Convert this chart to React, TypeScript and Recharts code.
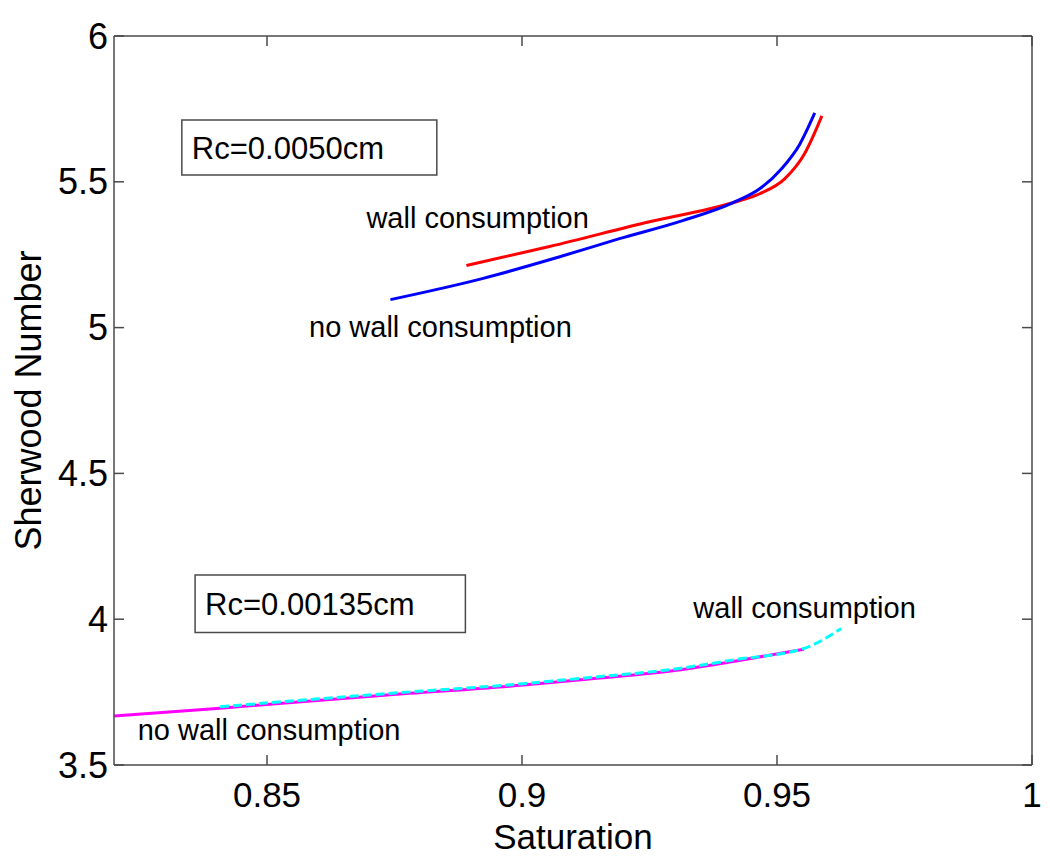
import React from 'react';
import { LineChart, Line, XAxis, YAxis, ReferenceArea, ReferenceDot, Label } from 'recharts';

const blueX = [0.8742, 0.8922, 0.9074, 0.9191, 0.9315, 0.9413, 0.9466, 0.9509, 0.9545, 0.9574];
const blueY = [5.096, 5.168, 5.243, 5.305, 5.367, 5.428, 5.476, 5.545, 5.63, 5.736];
const redX = [0.8891, 0.9054, 0.925, 0.9413, 0.9466, 0.9515, 0.9554, 0.9588];
const redY = [5.213, 5.278, 5.363, 5.428, 5.459, 5.51, 5.596, 5.726];
const magentaX = [0.82, 0.8408, 0.8736, 0.9003, 0.9132, 0.9303, 0.9417, 0.9553];
const magentaY = [3.668, 3.695, 3.74, 3.774, 3.795, 3.825, 3.856, 3.897];
const cyanX = [0.8408, 0.8736, 0.9003, 0.9132, 0.9303, 0.9417, 0.9553, 0.9626];
const cyanY = [3.7, 3.745, 3.779, 3.8, 3.83, 3.861, 3.9, 3.968];

const xTicks = [0.85, 0.9, 0.95, 1];
const yTicks = [3.5, 4, 4.5, 5, 5.5, 6];
const xTickLabels = ['0.85', '0.9', '0.95', '1'];
const yTickLabels = ['3.5', '4', '4.5', '5', '5.5', '6'];

const toPts = (xs: number[], ys: number[]) => xs.map((x, i) => ({ x, y: ys[i] }));

const FONT = '"Liberation Sans", Arial, Helvetica, sans-serif';
const AXC = '#4a4a4a';
const TICK_LEN = 10;

const annotations = [
  { x: 0.8913, y: 5.376, text: 'wall consumption' },
  { x: 0.884, y: 5.002, text: 'no wall consumption' },
  { x: 0.9554, y: 4.038, text: 'wall consumption' },
  { x: 0.8504, y: 3.62, text: 'no wall consumption' },
];

const boxes = [
  { x1: 0.8333, x2: 0.8833, y1: 5.523, y2: 5.712, text: 'Rc=0.0050cm' },
  { x1: 0.8359, x2: 0.8889, y1: 3.954, y2: 4.152, text: 'Rc=0.00135cm' },
];

const BottomTick = (props: any) => {
  const { x, y, index } = props;
  const axisY = y - 29;
  return (
    <g>
      <line x1={x} y1={axisY} x2={x} y2={axisY - TICK_LEN} stroke={AXC} strokeWidth={1.5} />
      <text x={x} y={y} textAnchor="middle" dominantBaseline="central" fill="#000" fontSize={35} fontFamily={FONT}>
        {xTickLabels[index]}
      </text>
    </g>
  );
};

const LeftTick = (props: any) => {
  const { x, y, index } = props;
  const axisX = x + 6;
  return (
    <g>
      <line x1={axisX} y1={y} x2={axisX + TICK_LEN} y2={y} stroke={AXC} strokeWidth={1.5} />
      <text x={x} y={y} textAnchor="end" dominantBaseline="central" fill="#000" fontSize={36} fontFamily={FONT}>
        {yTickLabels[index]}
      </text>
    </g>
  );
};

const TopTick = (props: any) => {
  const { x, y } = props;
  return <line x1={x} y1={y} x2={x} y2={y + TICK_LEN} stroke={AXC} strokeWidth={1.5} />;
};

const RightTick = (props: any) => {
  const { x, y } = props;
  return <line x1={x} y1={y} x2={x - TICK_LEN} y2={y} stroke={AXC} strokeWidth={1.5} />;
};

export default function App() {
  return (
    <div style={{ position: 'absolute', left: 0, top: 0, background: '#fff' }}>
      <LineChart width={1050} height={863} margin={{ top: 35, right: 17, bottom: 0, left: 0 }}>
        <XAxis
          xAxisId="b"
          type="number"
          dataKey="x"
          domain={[0.82, 1]}
          ticks={xTicks}
          allowDataOverflow
          height={98}
          stroke={AXC}
          strokeWidth={1.5}
          tickLine={false}
          tickSize={0}
          tickMargin={29}
          tick={<BottomTick />}
        >
          <Label value="Saturation" position="insideBottom" offset={14} style={{ fill: '#000', fontSize: 35, fontFamily: FONT }} />
        </XAxis>
        <XAxis
          xAxisId="t"
          orientation="top"
          type="number"
          dataKey="x"
          domain={[0.82, 1]}
          ticks={xTicks}
          allowDataOverflow
          height={1}
          stroke={AXC}
          strokeWidth={1.5}
          tickLine={false}
          tickSize={0}
          tickMargin={0}
          tick={<TopTick />}
        />
        <YAxis
          yAxisId="l"
          type="number"
          dataKey="y"
          domain={[3.5, 6]}
          ticks={yTicks}
          allowDataOverflow
          width={114}
          stroke={AXC}
          strokeWidth={1.5}
          tickLine={false}
          tickSize={0}
          tickMargin={6}
          tick={<LeftTick />}
        >
          <Label value="Sherwood Number" angle={-90} position="insideLeft" offset={28} style={{ fill: '#000', fontSize: 36, fontFamily: FONT, textAnchor: 'middle' }} />
        </YAxis>
        <YAxis
          yAxisId="r"
          orientation="right"
          type="number"
          dataKey="y"
          domain={[3.5, 6]}
          ticks={yTicks}
          allowDataOverflow
          width={1}
          stroke={AXC}
          strokeWidth={1.5}
          tickLine={false}
          tickSize={0}
          tickMargin={0}
          tick={<RightTick />}
        />
        {boxes.map((b, i) => (
          <ReferenceArea
            key={'b' + i}
            xAxisId="b"
            yAxisId="l"
            x1={b.x1}
            x2={b.x2}
            y1={b.y1}
            y2={b.y2}
            fill="#fff"
            fillOpacity={1}
            stroke={AXC}
            strokeWidth={1.5}
            ifOverflow="visible"
          >
            <Label value={b.text} position="insideLeft" offset={10} style={{ fill: '#000', fontSize: 31, fontFamily: FONT }} />
          </ReferenceArea>
        ))}
        {annotations.map((a, i) => (
          <ReferenceDot
            key={'a' + i}
            xAxisId="b"
            yAxisId="l"
            x={a.x}
            y={a.y}
            r={0}
            fill="none"
            stroke="none"
            ifOverflow="visible"
          >
            <Label value={a.text} position="center" style={{ fill: '#000', fontSize: 29, fontFamily: FONT }} />
          </ReferenceDot>
        ))}
        <Line xAxisId="b" yAxisId="l" data={toPts(redX, redY)} dataKey="y" type="monotone" stroke="#ff0000" strokeWidth={3} dot={false} isAnimationActive={false} />
        <Line xAxisId="b" yAxisId="l" data={toPts(blueX, blueY)} dataKey="y" type="monotone" stroke="#0000ff" strokeWidth={3} dot={false} isAnimationActive={false} />
        <Line xAxisId="b" yAxisId="l" data={toPts(magentaX, magentaY)} dataKey="y" type="monotone" stroke="#ff00ff" strokeWidth={3} dot={false} isAnimationActive={false} />
        <Line xAxisId="b" yAxisId="l" data={toPts(cyanX, cyanY)} dataKey="y" type="monotone" stroke="#00ffff" strokeWidth={3} strokeDasharray="9 4" dot={false} isAnimationActive={false} />
      </LineChart>
    </div>
  );
}
